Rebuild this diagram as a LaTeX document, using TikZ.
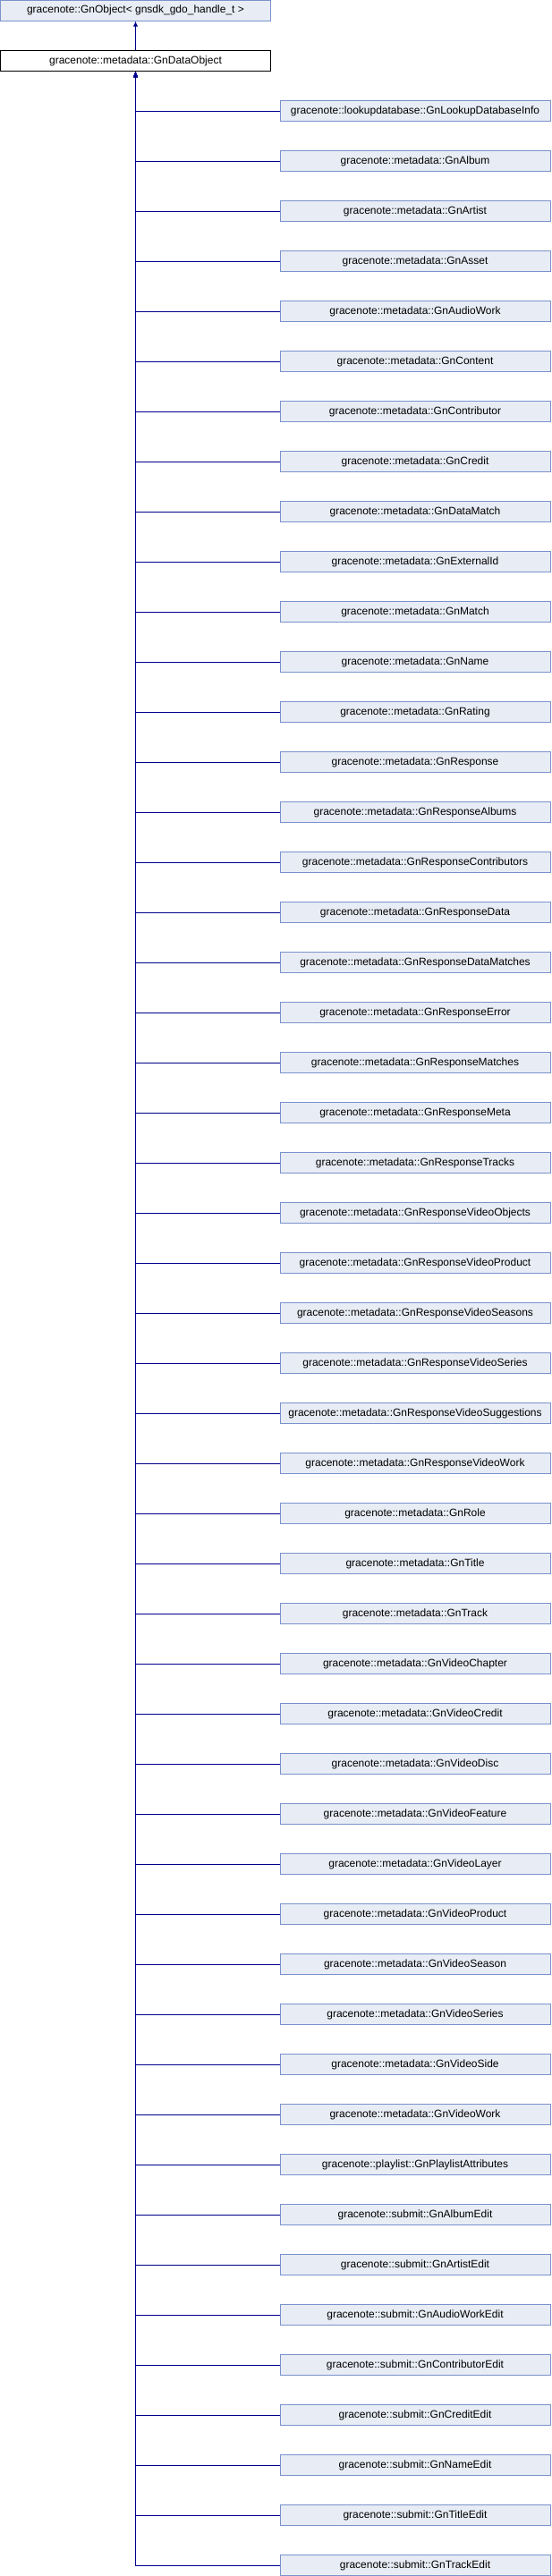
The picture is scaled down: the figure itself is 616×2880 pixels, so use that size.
\documentclass[tikz,border=0pt]{standalone}
\usepackage{fontspec}
\setmainfont{Liberation Sans}
\usepackage{tikz}
\usetikzlibrary{arrows.meta}

\definecolor{boxfill}{RGB}{232,236,245}
\definecolor{boxline}{RGB}{122,146,204}
\definecolor{edgeblue}{RGB}{0,0,140}

\tikzset{
  classbox/.style={draw=boxline, fill=boxfill, line width=1pt, minimum width=302pt,
    minimum height=23pt, inner sep=0pt, font=\fontsize{12}{14}\selectfont},
  basebox/.style={classbox, draw=black, fill=white},
  edge/.style={draw=edgeblue, line width=1pt, -{Latex[length=6pt,width=5pt]}}
}

\begin{document}
\begin{tikzpicture}[x=1pt, y=-1pt]
% Picture frame
\useasboundingbox (0,0) rectangle (616,2880);

% Draw parent classes
\node[classbox] (top) at (151.5,11.5) {gracenote::GnObject\textless{} gnsdk\_gdo\_handle\_t \textgreater};
\node[basebox] (base) at (151.5,68) {gracenote::metadata::GnDataObject};

% Draw derived classes
\node[classbox] (1c) at (464,124) {gracenote::lookupdatabase::GnLookupDatabaseInfo};
\node[classbox] (2c) at (464,180) {gracenote::metadata::GnAlbum};
\node[classbox] (3c) at (464,236) {gracenote::metadata::GnArtist};
\node[classbox] (4c) at (464,292) {gracenote::metadata::GnAsset};
\node[classbox] (5c) at (464,348) {gracenote::metadata::GnAudioWork};
\node[classbox] (6c) at (464,404) {gracenote::metadata::GnContent};
\node[classbox] (7c) at (464,460) {gracenote::metadata::GnContributor};
\node[classbox] (8c) at (464,516) {gracenote::metadata::GnCredit};
\node[classbox] (9c) at (464,572) {gracenote::metadata::GnDataMatch};
\node[classbox] (10c) at (464,628) {gracenote::metadata::GnExternalId};
\node[classbox] (11c) at (464,684) {gracenote::metadata::GnMatch};
\node[classbox] (12c) at (464,740) {gracenote::metadata::GnName};
\node[classbox] (13c) at (464,796) {gracenote::metadata::GnRating};
\node[classbox] (14c) at (464,852) {gracenote::metadata::GnResponse};
\node[classbox] (15c) at (464,908) {gracenote::metadata::GnResponseAlbums};
\node[classbox] (16c) at (464,964) {gracenote::metadata::GnResponseContributors};
\node[classbox] (17c) at (464,1020) {gracenote::metadata::GnResponseData};
\node[classbox] (18c) at (464,1076) {gracenote::metadata::GnResponseDataMatches};
\node[classbox] (19c) at (464,1132) {gracenote::metadata::GnResponseError};
\node[classbox] (20c) at (464,1188) {gracenote::metadata::GnResponseMatches};
\node[classbox] (21c) at (464,1244) {gracenote::metadata::GnResponseMeta};
\node[classbox] (22c) at (464,1300) {gracenote::metadata::GnResponseTracks};
\node[classbox] (23c) at (464,1356) {gracenote::metadata::GnResponseVideoObjects};
\node[classbox] (24c) at (464,1412) {gracenote::metadata::GnResponseVideoProduct};
\node[classbox] (25c) at (464,1468) {gracenote::metadata::GnResponseVideoSeasons};
\node[classbox] (26c) at (464,1524) {gracenote::metadata::GnResponseVideoSeries};
\node[classbox] (27c) at (464,1580) {gracenote::metadata::GnResponseVideoSuggestions};
\node[classbox] (28c) at (464,1636) {gracenote::metadata::GnResponseVideoWork};
\node[classbox] (29c) at (464,1692) {gracenote::metadata::GnRole};
\node[classbox] (30c) at (464,1748) {gracenote::metadata::GnTitle};
\node[classbox] (31c) at (464,1804) {gracenote::metadata::GnTrack};
\node[classbox] (32c) at (464,1860) {gracenote::metadata::GnVideoChapter};
\node[classbox] (33c) at (464,1916) {gracenote::metadata::GnVideoCredit};
\node[classbox] (34c) at (464,1972) {gracenote::metadata::GnVideoDisc};
\node[classbox] (35c) at (464,2028) {gracenote::metadata::GnVideoFeature};
\node[classbox] (36c) at (464,2084) {gracenote::metadata::GnVideoLayer};
\node[classbox] (37c) at (464,2140) {gracenote::metadata::GnVideoProduct};
\node[classbox] (38c) at (464,2196) {gracenote::metadata::GnVideoSeason};
\node[classbox] (39c) at (464,2252) {gracenote::metadata::GnVideoSeries};
\node[classbox] (40c) at (464,2308) {gracenote::metadata::GnVideoSide};
\node[classbox] (41c) at (464,2364) {gracenote::metadata::GnVideoWork};
\node[classbox] (42c) at (464,2420) {gracenote::playlist::GnPlaylistAttributes};
\node[classbox] (43c) at (464,2476) {gracenote::submit::GnAlbumEdit};
\node[classbox] (44c) at (464,2532) {gracenote::submit::GnArtistEdit};
\node[classbox] (45c) at (464,2588) {gracenote::submit::GnAudioWorkEdit};
\node[classbox] (46c) at (464,2644) {gracenote::submit::GnContributorEdit};
\node[classbox] (47c) at (464,2700) {gracenote::submit::GnCreditEdit};
\node[classbox] (48c) at (464,2756) {gracenote::submit::GnNameEdit};
\node[classbox] (49c) at (464,2812) {gracenote::submit::GnTitleEdit};
\node[classbox] (50c) at (464,2868) {gracenote::submit::GnTrackEdit};

% Draw inheritance arrows
\draw[edge] (base.north) -- (top.south);
\draw[edge] (1c.west) -| (base.south);
\draw[edge] (2c.west) -| (base.south);
\draw[edge] (3c.west) -| (base.south);
\draw[edge] (4c.west) -| (base.south);
\draw[edge] (5c.west) -| (base.south);
\draw[edge] (6c.west) -| (base.south);
\draw[edge] (7c.west) -| (base.south);
\draw[edge] (8c.west) -| (base.south);
\draw[edge] (9c.west) -| (base.south);
\draw[edge] (10c.west) -| (base.south);
\draw[edge] (11c.west) -| (base.south);
\draw[edge] (12c.west) -| (base.south);
\draw[edge] (13c.west) -| (base.south);
\draw[edge] (14c.west) -| (base.south);
\draw[edge] (15c.west) -| (base.south);
\draw[edge] (16c.west) -| (base.south);
\draw[edge] (17c.west) -| (base.south);
\draw[edge] (18c.west) -| (base.south);
\draw[edge] (19c.west) -| (base.south);
\draw[edge] (20c.west) -| (base.south);
\draw[edge] (21c.west) -| (base.south);
\draw[edge] (22c.west) -| (base.south);
\draw[edge] (23c.west) -| (base.south);
\draw[edge] (24c.west) -| (base.south);
\draw[edge] (25c.west) -| (base.south);
\draw[edge] (26c.west) -| (base.south);
\draw[edge] (27c.west) -| (base.south);
\draw[edge] (28c.west) -| (base.south);
\draw[edge] (29c.west) -| (base.south);
\draw[edge] (30c.west) -| (base.south);
\draw[edge] (31c.west) -| (base.south);
\draw[edge] (32c.west) -| (base.south);
\draw[edge] (33c.west) -| (base.south);
\draw[edge] (34c.west) -| (base.south);
\draw[edge] (35c.west) -| (base.south);
\draw[edge] (36c.west) -| (base.south);
\draw[edge] (37c.west) -| (base.south);
\draw[edge] (38c.west) -| (base.south);
\draw[edge] (39c.west) -| (base.south);
\draw[edge] (40c.west) -| (base.south);
\draw[edge] (41c.west) -| (base.south);
\draw[edge] (42c.west) -| (base.south);
\draw[edge] (43c.west) -| (base.south);
\draw[edge] (44c.west) -| (base.south);
\draw[edge] (45c.west) -| (base.south);
\draw[edge] (46c.west) -| (base.south);
\draw[edge] (47c.west) -| (base.south);
\draw[edge] (48c.west) -| (base.south);
\draw[edge] (49c.west) -| (base.south);
\draw[edge] (50c.west) -| (base.south);
\end{tikzpicture}
\end{document}
